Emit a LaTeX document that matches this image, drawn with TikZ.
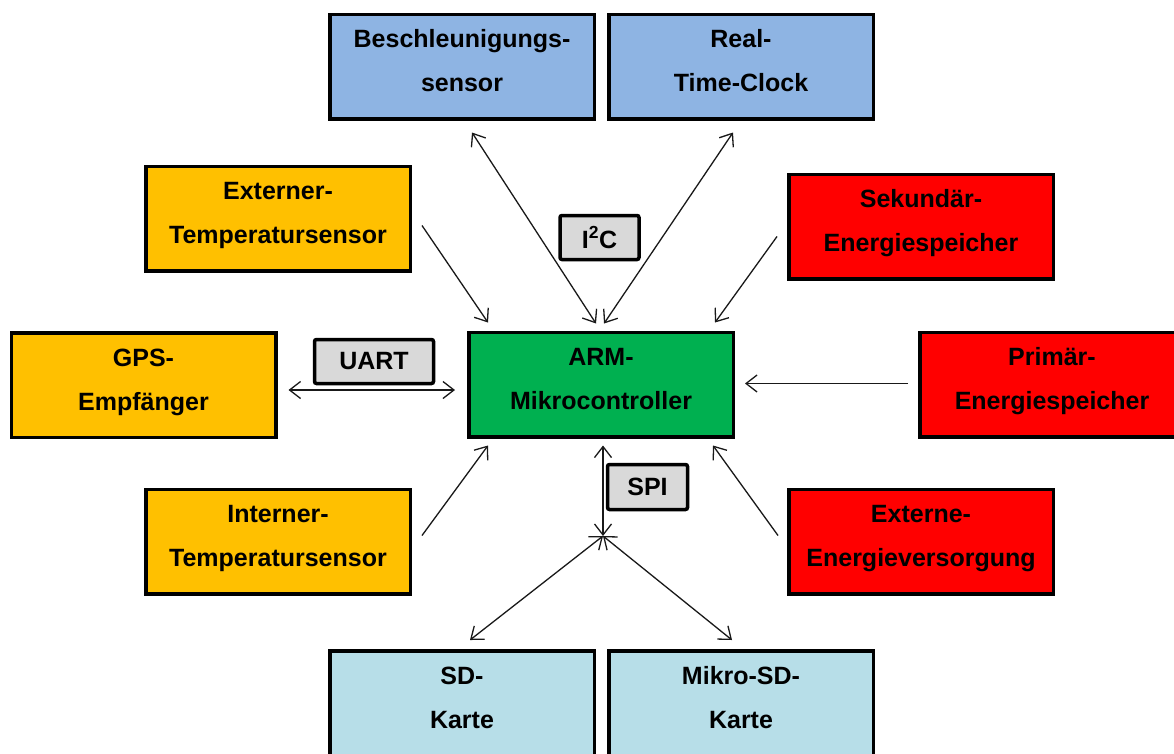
\documentclass[tikz,border=0pt]{standalone}
\usepackage{fontspec}
\setmainfont{Liberation Sans}
\usetikzlibrary{arrows.meta}
\definecolor{topblue}{HTML}{8EB4E3}
\definecolor{orangebox}{HTML}{FFC000}
\definecolor{redbox}{HTML}{FF0000}
\definecolor{greenbox}{HTML}{00B050}
\definecolor{lightblue}{HTML}{B7DEE8}
\definecolor{graybox}{HTML}{D9D9D9}
\newcommand{\twolines}[2]{\raisebox{-0.5pt}[0pt][0pt]{\begin{tabular}{@{}c@{}}#1\\#2\end{tabular}}}
\begin{document}
\begin{tikzpicture}[x=1pt,y=-1pt,
  blk/.style={draw=black, line width=3.5pt, minimum width=264.5pt, minimum height=104.5pt,
    align=center, font=\fontsize{25}{44}\selectfont\bfseries, inner sep=0pt},
  lbl/.style={draw=black, fill=graybox, line width=3.5pt, rounded corners=2pt,
    align=center, font=\fontsize{25}{30}\selectfont\bfseries, inner sep=0pt},
  conn/.style={line width=1.3pt, black!90},
  bi/.style={conn, {Straight Barb[length=11pt,width=17pt]}-{Straight Barb[length=11pt,width=17pt]}},
  uni/.style={conn, -{Straight Barb[length=11pt,width=17pt]}}]
\useasboundingbox (0,0) rectangle (1174,753);
\fill[white] (0,0) rectangle (1174,753);

\node[blk, fill=topblue] (besch) at (462,66.5) {\twolines{Beschleunigungs-}{sensor}};
\node[blk, fill=topblue] (rtc) at (741,66.5) {\twolines{Real-}{Time-Clock}};
\node[blk, fill=orangebox] (exttemp) at (278,218.5) {\twolines{Externer-}{Temperatursensor}};
\node[blk, fill=redbox] (sek) at (921,226.5) {\twolines{Sekundär-}{Energiespeicher}};
\node[blk, fill=orangebox] (gps) at (143.5,385) {\twolines{GPS-}{Empfänger}};
\node[blk, fill=greenbox] (arm) at (601,384.5) {\twolines{ARM-}{Mikrocontroller}};
\node[blk, fill=redbox] (prim) at (1052,384.5) {\twolines{Primär-}{Energiespeicher}};
\node[blk, fill=orangebox] (inttemp) at (278,541.5) {\twolines{Interner-}{Temperatursensor}};
\node[blk, fill=redbox] (extenerg) at (921,541.5) {\twolines{Externe-}{Energieversorgung}};
\node[blk, fill=lightblue] (sd) at (462,703) {\twolines{SD-}{Karte}};
\node[blk, fill=lightblue] (msd) at (741,703) {\twolines{Mikro-SD-}{Karte}};

\node[lbl, minimum width=79pt, minimum height=44pt] (i2c) at (599.5,237.5) {I\textsuperscript{2}C};
\node[lbl, minimum width=119pt, minimum height=44pt] (uart) at (374,361.5) {UART};
\node[lbl, minimum width=80pt, minimum height=45pt] (spi) at (647.5,487) {SPI};

\coordinate (junc) at (603,536);

\draw[bi] ([shift={(10,12)}]besch.south) -- ([shift={(-5,-7)}]arm.north);
\draw[bi] ([shift={(-8,12)}]rtc.south) -- ([shift={(3,-7)}]arm.north);
\draw[uni] ([shift={(10,7)}]exttemp.east) -- ([shift={(21,-8)}]arm.north west);
\draw[uni] ([shift={(-10,10)}]sek.west) -- ([shift={(-20,-8)}]arm.north east);
\draw[bi] ([shift={(11,5)}]gps.east) -- ([shift={(-12,5.5)}]arm.west);
\draw[uni] ([shift={(-10,-1)}]prim.west) -- ([shift={(10,-1)}]arm.east);
\draw[uni] ([shift={(10,-6)}]inttemp.east) -- ([shift={(21,7)}]arm.south west);
\draw[uni] ([shift={(-9,-6)}]extenerg.west) -- ([shift={(-22,7)}]arm.south east);
\draw[bi] ([shift={(2,7)}]arm.south) -- (junc);
\draw[bi] (junc) -- ([shift={(8,-9)}]sd.north);
\draw[bi] (junc) -- ([shift={(-9,-9)}]msd.north);
\end{tikzpicture}
\end{document}
